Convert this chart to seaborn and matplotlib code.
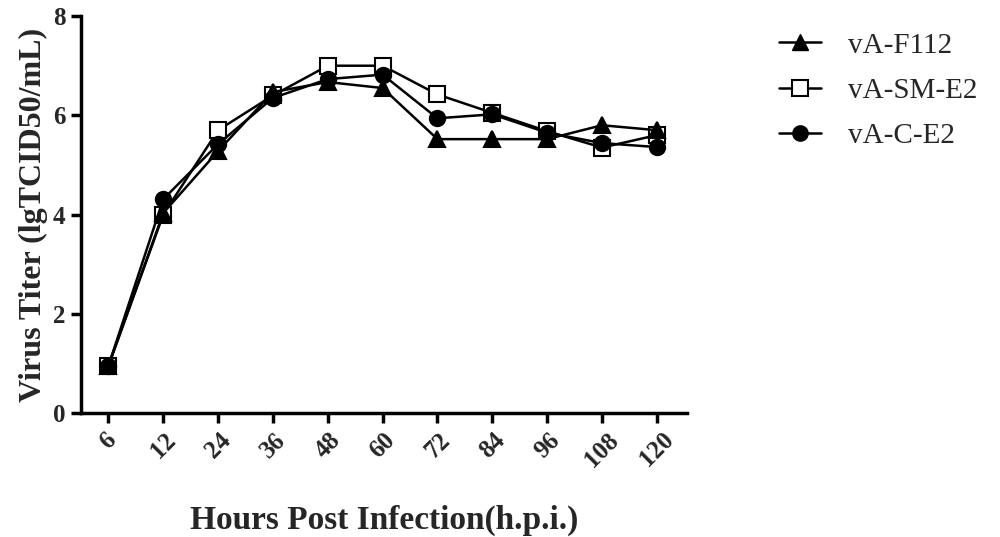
import matplotlib
matplotlib.use("Agg")
import matplotlib.pyplot as plt
import seaborn as sns
import pandas as pd
from matplotlib.lines import Line2D

hours = ["6", "12", "24", "36", "48", "60", "72", "84", "96", "108", "120"]
f112 = [0.95, 4.03, 5.28, 6.47, 6.67, 6.55, 5.52, 5.52, 5.52, 5.80, 5.70]
sm_e2 = [0.95, 4.00, 5.70, 6.40, 7.00, 7.00, 6.42, 6.05, 5.68, 5.35, 5.60]
c_e2 = [0.95, 4.31, 5.42, 6.35, 6.73, 6.82, 5.94, 6.02, 5.65, 5.44, 5.36]

sns.set_theme(style="ticks")
plt.rcParams["font.family"] = ["Liberation Serif", "DejaVu Serif"]

df = pd.DataFrame({"hours": hours, "vA-F112": f112, "vA-SM-E2": sm_e2, "vA-C-E2": c_e2})

fig = plt.figure(figsize=(10, 5.37), dpi=100)
ax = fig.add_axes([0.081, 0.231, 0.606, 0.739])

styles = {
    "vA-SM-E2": dict(marker="s", markerfacecolor="white", markersize=11),
    "vA-F112": dict(marker="^", markerfacecolor="black", markersize=11),
    "vA-C-E2": dict(marker="o", markerfacecolor="black", markersize=11),
}
for name in ["vA-SM-E2", "vA-F112", "vA-C-E2"]:
    st = styles[name]
    sns.pointplot(data=df, x="hours", y=name, order=hours, color="black", ax=ax,
                  markers=st["marker"], linestyles="-", errorbar=None,
                  markersize=st["markersize"], markerfacecolor=st["markerfacecolor"],
                  markeredgecolor="black", markeredgewidth=1.5, linewidth=1.8)

ax.set_xlim(-0.5, 10.55)
ax.set_ylim(0, 8)
ax.set_yticks([0, 2, 4, 6, 8])
sns.despine(ax=ax)
for s in ["left", "bottom"]:
    ax.spines[s].set_linewidth(2.5)
    ax.spines[s].set_color("black")
ax.tick_params(axis="both", width=2.5, length=7, color="black", labelsize=18, pad=4)
ax.set_xticks(range(len(hours)))
ax.set_xticklabels(hours, rotation=45, ha="center", va="top", fontweight="bold")
for lab in ax.get_yticklabels():
    lab.set_fontweight("bold")

ax.set_xlabel("Hours Post Infection(h.p.i.)", fontsize=24, fontweight="bold", labelpad=24)
ax.set_ylabel("Virus Titer (lgTCID50/mL)", fontsize=23, fontweight="bold", labelpad=4)

handles = [
    Line2D([], [], color="black", lw=1.8, marker="^", markersize=11, markerfacecolor="black"),
    Line2D([], [], color="black", lw=1.8, marker="s", markersize=11, markerfacecolor="white", markeredgewidth=1.5),
    Line2D([], [], color="black", lw=1.8, marker="o", markersize=11, markerfacecolor="black"),
]
fig.legend(handles, ["vA-F112", "vA-SM-E2", "vA-C-E2"], loc="upper left",
           bbox_to_anchor=(0.779, 0.94), frameon=False, fontsize=21,
           borderaxespad=0, borderpad=0,
           handlelength=1.45, labelspacing=0.65, handletextpad=0.9)

fig.savefig("out.png", dpi=100, facecolor="white")
